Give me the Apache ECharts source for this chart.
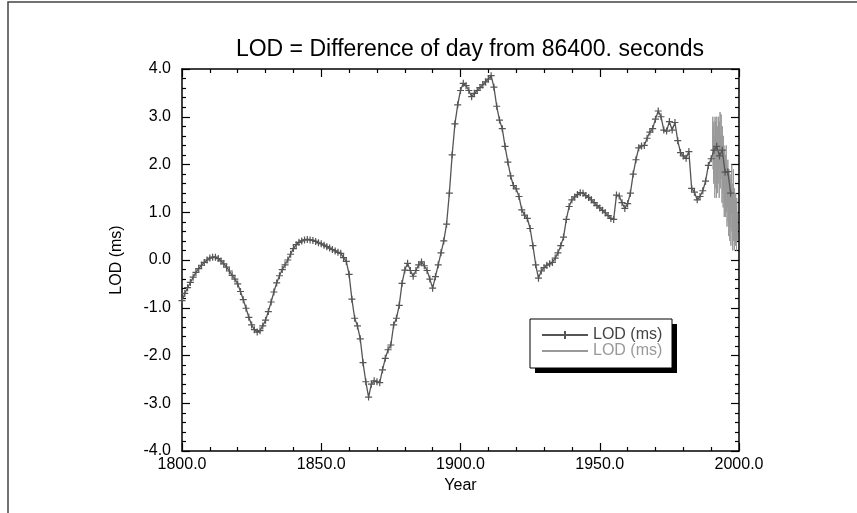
<!DOCTYPE html>
<html>
<head>
<meta charset="utf-8">
<script src="https://cdn.jsdelivr.net/npm/echarts@6/dist/echarts.min.js"></script>
<style>
  html, body { margin: 0; padding: 0; background: #fff; }
  #chart { width: 857px; height: 513px; }
</style>
</head>
<body>
<div id="chart"></div>
<script>
  // yearly LOD series (dark line with + markers)
  const lodYears = [
    1800, 1801, 1802, 1803, 1804, 1805, 1806, 1807, 1808, 1809,
    1810, 1811, 1812, 1813, 1814, 1815, 1816, 1817, 1818, 1819,
    1820, 1821, 1822, 1823, 1824, 1825, 1826, 1827, 1828, 1829,
    1830, 1831, 1832, 1833, 1834, 1835, 1836, 1837, 1838, 1839,
    1840, 1841, 1842, 1843, 1844, 1845, 1846, 1847, 1848, 1849,
    1850, 1851, 1852, 1853, 1854, 1855, 1856, 1857, 1858, 1859,
    1860, 1861, 1862, 1863, 1864, 1865, 1866, 1867, 1868, 1869,
    1870, 1871, 1872, 1873, 1874, 1875, 1876, 1877, 1878, 1879,
    1880, 1881, 1882, 1883, 1884, 1885, 1886, 1887, 1888, 1889,
    1890, 1891, 1892, 1893, 1894, 1895, 1896, 1897, 1898, 1899,
    1900, 1901, 1902, 1903, 1904, 1905, 1906, 1907, 1908, 1909,
    1910, 1911, 1912, 1913, 1914, 1915, 1916, 1917, 1918, 1919,
    1920, 1921, 1922, 1923, 1924, 1925, 1926, 1927, 1928, 1929,
    1930, 1931, 1932, 1933, 1934, 1935, 1936, 1937, 1938, 1939,
    1940, 1941, 1942, 1943, 1944, 1945, 1946, 1947, 1948, 1949,
    1950, 1951, 1952, 1953, 1954, 1955, 1956, 1957, 1958, 1959,
    1960, 1961, 1962, 1963, 1964, 1965, 1966, 1967, 1968, 1969,
    1970, 1971, 1972, 1973, 1974, 1975, 1976, 1977, 1978, 1979,
    1980, 1981, 1982, 1983, 1984, 1985, 1986, 1987, 1988, 1989,
    1990, 1991, 1992, 1993, 1994, 1995, 1996, 1997
  ];
  const lodValues = [
    -0.85, -0.70, -0.58, -0.47, -0.36, -0.26, -0.18, -0.11, -0.05, 0.00,
    0.04, 0.06, 0.06, 0.03, -0.02, -0.08, -0.15, -0.23, -0.32, -0.40,
    -0.50, -0.66, -0.83, -1.01, -1.20, -1.36, -1.46, -1.51, -1.48, -1.38,
    -1.26, -1.08, -0.88, -0.67, -0.48, -0.33, -0.20, -0.10, 0.00, 0.12,
    0.24, 0.32, 0.37, 0.40, 0.42, 0.43, 0.42, 0.41, 0.39, 0.36,
    0.34, 0.31, 0.28, 0.25, 0.22, 0.19, 0.16, 0.14, 0.05, -0.03,
    -0.30, -0.82, -1.22, -1.38, -1.65, -2.15, -2.55, -2.87, -2.60, -2.53,
    -2.55, -2.57, -2.30, -2.06, -1.88, -1.78, -1.36, -1.22, -0.95, -0.49,
    -0.21, -0.07, -0.22, -0.34, -0.22, -0.10, -0.04, -0.12, -0.22, -0.40,
    -0.59, -0.35, -0.10, 0.15, 0.40, 0.75, 1.40, 2.20, 2.85, 3.25,
    3.55, 3.70, 3.65, 3.55, 3.42, 3.49, 3.55, 3.61, 3.67, 3.73,
    3.79, 3.86, 3.62, 3.22, 2.93, 2.75, 2.38, 2.05, 1.76, 1.56,
    1.49, 1.33, 1.05, 0.94, 0.87, 0.66, 0.30, -0.10, -0.38, -0.23,
    -0.16, -0.11, -0.08, -0.05, 0.04, 0.15, 0.30, 0.48, 0.85, 1.12,
    1.26, 1.32, 1.37, 1.41, 1.40, 1.35, 1.31, 1.26, 1.20, 1.14,
    1.09, 1.04, 0.99, 0.93, 0.87, 0.85, 1.36, 1.34, 1.20, 1.08,
    1.18, 1.40, 1.80, 2.10, 2.35, 2.39, 2.40, 2.55, 2.68, 2.75,
    2.95, 3.12, 3.00, 2.72, 2.70, 2.90, 2.72, 2.88, 2.50, 2.25,
    2.18, 2.13, 2.27, 1.50, 1.42, 1.26, 1.33, 1.45, 1.65, 1.98,
    2.12, 2.30, 2.38, 2.18, 2.30, 1.84, 1.85, 1.40
  ];

  // high-rate LOD series (gray), sampled every 0.1 yr from 1990.5
  const fineStart = 1990.5;
  const fineStep = 0.1;
  const fineValues = [
    2.2, 3.0, 1.9, 2.8, 1.6, 2.9, 1.8, 2.6, 1.3, 3.0,
    2.0, 2.9, 1.5, 2.6, 1.3, 3.0, 1.8, 2.8, 1.4, 2.5,
    1.6, 3.0, 1.9, 2.7, 1.3, 2.9, 2.0, 3.1, 1.5, 2.6,
    1.7, 3.05, 1.9, 2.4, 1.2, 2.8, 1.4, 2.3, 1.1, 2.6,
    1.5, 2.4, 0.9, 2.3, 1.2, 2.1, 0.9, 2.2, 1.3, 2.4,
    1.0, 2.0, 0.7, 1.8, 1.1, 2.1, 0.8, 1.7, 0.5, 1.9,
    0.9, 1.6, 0.4, 1.8, 0.7, 1.5, 0.3, 1.7, 1.0, 2.0,
    0.6, 1.4, 0.2, 1.6, 0.8, 1.9, 0.4, 1.3, 0.2, 1.5,
    0.7, 1.2, 0.3, 1.4, 0.5, 1.1, 0.2, 1.3, 0.6, 1.0,
    0.4
  ];

  const xTicks = [1800, 1850, 1900, 1950, 2000];
  const yTicks = [-4, -3, -2, -1, 0, 1, 2, 3, 4];

  const chart = echarts.init(document.getElementById('chart'));

  const lodData = lodYears.map((y, i) => [y, lodValues[i]]);
  const fineData = fineValues.map((v, i) => [+(fineStart + i * fineStep).toFixed(2), v]);

  const font = '"Liberation Sans", Arial, Helvetica, sans-serif';
  const plus = 'path://M0,5L10,5M5,0L5,10';

  // shared axis look: black frame, ticks pointing inward
  const axisBase = {
    type: 'value',
    axisLine: { show: true, onZero: false, lineStyle: { color: '#000', width: 1.5 } },
    axisTick: { show: true, inside: true, length: 8, lineStyle: { color: '#000', width: 1.2 } },
    minorTick: { show: true, splitNumber: 5, length: 4, lineStyle: { color: '#000', width: 1.2 } },
    splitLine: { show: false },
    minorSplitLine: { show: false }
  };

  // legend box with a hard drop shadow
  const box = { x: 530, y: 319, w: 142, h: 49, shadow: 5 };

  const option = {
    backgroundColor: '#fff',
    animation: false,
    textStyle: { fontFamily: font },
    title: {
      text: 'LOD = Difference of day from 86400. seconds',
      left: 465,
      top: 33,
      textAlign: 'center',
      textStyle: { fontFamily: font, fontSize: 23, fontWeight: 'normal', color: '#000' }
    },
    graphic: [
      {
        type: 'rect',
        shape: { x: 8, y: 2, width: 900, height: 600 },
        style: { fill: 'none', stroke: '#444', lineWidth: 1.5 },
        silent: true
      },
      {
        type: 'rect',
        z: 10,
        shape: { x: box.x + box.shadow, y: box.y + box.shadow, width: box.w, height: box.h },
        style: { fill: '#000' },
        silent: true
      },
      {
        type: 'rect',
        z: 11,
        shape: { x: box.x, y: box.y, width: box.w, height: box.h },
        style: { fill: '#fff', stroke: '#000', lineWidth: 1 },
        silent: true
      }
    ],
    legend: {
      z: 20,
      orient: 'vertical',
      left: box.x,
      top: box.y,
      padding: [8, 14, 8, 11],
      itemGap: 0,
      itemWidth: 46,
      itemHeight: 10,
      formatter: name => name.trim(),
      data: [
        { name: 'LOD (ms)', textStyle: { color: '#444' } },
        {
          name: 'LOD (ms) ',
          textStyle: { color: '#999' },
          itemStyle: { color: 'rgba(0,0,0,0)', borderWidth: 0, opacity: 0 }
        }
      ],
      textStyle: { fontFamily: font, fontSize: 16 }
    },
    grid: { left: 182, right: 118, top: 69, bottom: 62 },
    xAxis: [
      Object.assign({}, axisBase, {
        min: xTicks[0],
        max: xTicks[xTicks.length - 1],
        interval: 50,
        position: 'bottom',
        name: 'Year',
        nameLocation: 'middle',
        nameGap: 27,
        nameTextStyle: { fontFamily: font, fontSize: 16, color: '#000' },
        axisLabel: { show: true, margin: 6, color: '#000', fontSize: 16, fontFamily: font,
          formatter: v => v.toFixed(1) }
      }),
      Object.assign({}, axisBase, {
        min: xTicks[0],
        max: xTicks[xTicks.length - 1],
        interval: 50,
        position: 'top',
        axisLabel: { show: false }
      })
    ],
    yAxis: [
      Object.assign({}, axisBase, {
        min: yTicks[0],
        max: yTicks[yTicks.length - 1],
        interval: 1,
        position: 'left',
        name: 'LOD (ms)',
        nameLocation: 'middle',
        nameGap: 57,
        nameTextStyle: { fontFamily: font, fontSize: 16, color: '#000' },
        axisLabel: { show: true, margin: 11, color: '#000', fontSize: 16, fontFamily: font,
          formatter: v => v.toFixed(1) }
      }),
      Object.assign({}, axisBase, {
        min: yTicks[0],
        max: yTicks[yTicks.length - 1],
        interval: 1,
        position: 'right',
        axisLabel: { show: false }
      })
    ],
    series: [
      {
        name: 'LOD (ms)',
        type: 'line',
        data: lodData,
        symbol: plus,
        symbolSize: 7,
        showAllSymbol: true,
        lineStyle: { color: '#555', width: 1.3 },
        itemStyle: { color: '#555', borderColor: '#555', borderWidth: 1.2 },
        z: 3
      },
      {
        name: 'LOD (ms) ',
        type: 'line',
        data: fineData,
        symbol: 'none',
        lineStyle: { color: '#999', width: 1 },
        itemStyle: { color: '#999' },
        z: 2
      }
    ]
  };

  chart.setOption(option);
</script>
</body>
</html>
